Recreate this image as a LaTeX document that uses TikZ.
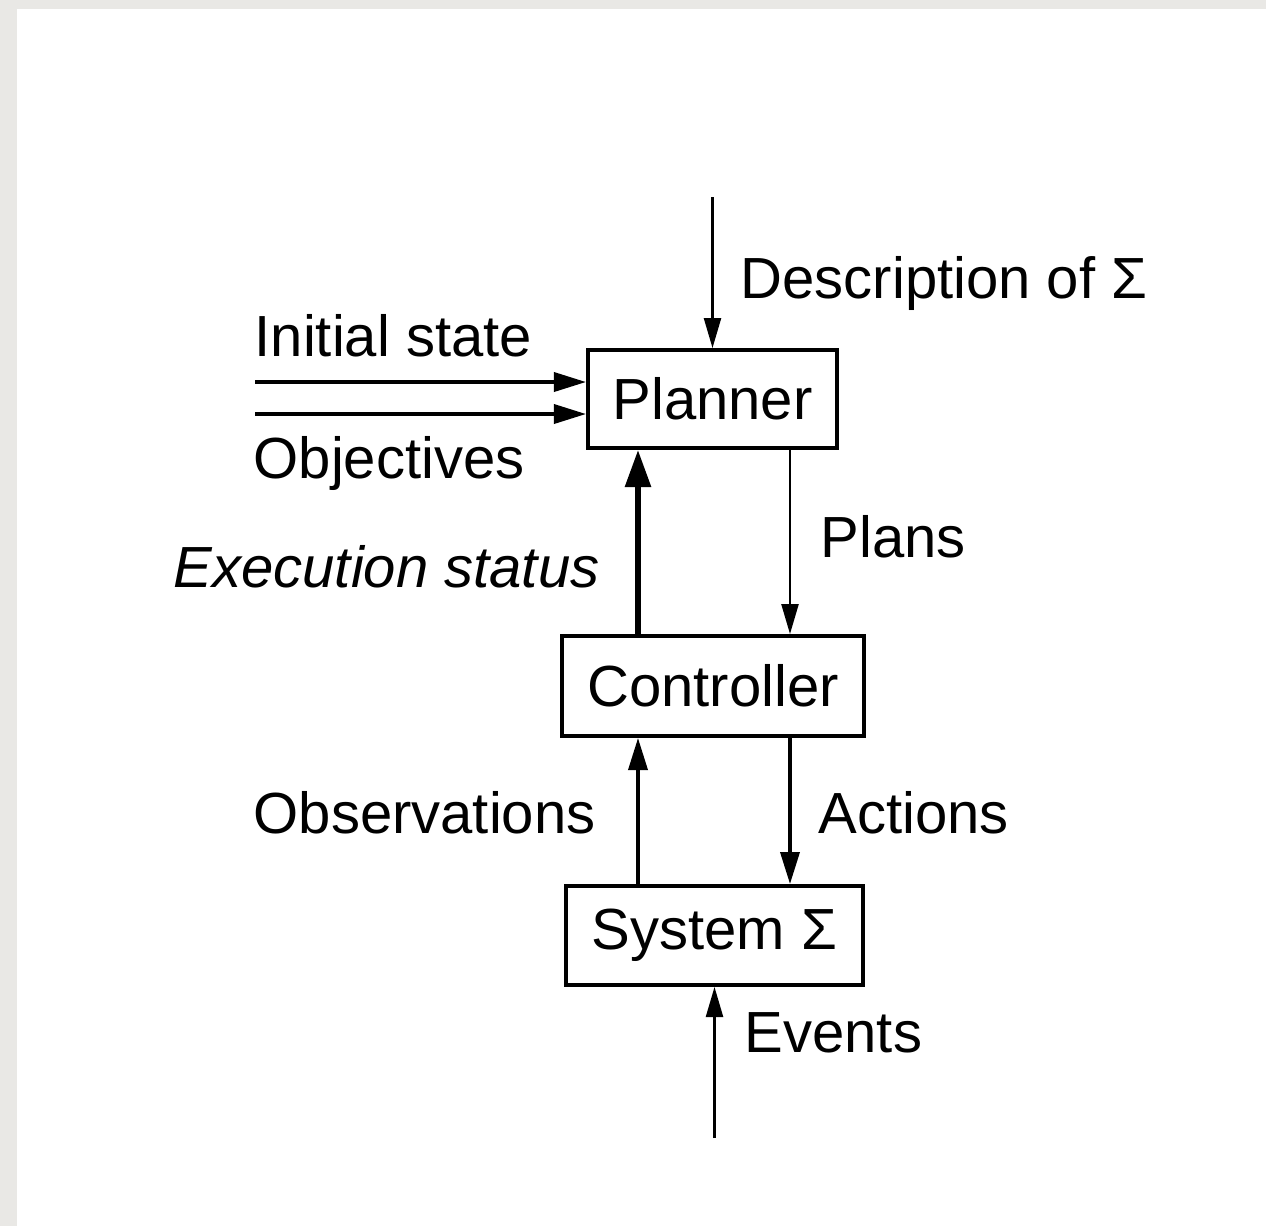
\documentclass[tikz,border=0pt]{standalone}
\usepackage{fontspec}
\setmainfont{Liberation Sans}
\usepackage{tikz}
\usetikzlibrary{positioning, arrows.meta, calc}
\definecolor{PageGray}{RGB}{233,232,229}

\begin{document}
\begin{tikzpicture}[x=0.01cm, y=-0.01cm,
    block/.style={draw, line width=1.1pt, inner sep=0pt, font=\fontsize{16.5}{19}\selectfont},
    lbl/.style={anchor=base west, inner sep=0pt, font=\fontsize{16.5}{19}\selectfont},
    flow/.style={-{Triangle[length=0.32cm, width=0.19cm]}, line width=1.0pt},
    thinflow/.style={-{Triangle[length=0.30cm, width=0.17cm]}, line width=0.65pt},
    statflow/.style={-{Triangle[length=0.37cm, width=0.25cm]}, line width=1.6pt}]
    \useasboundingbox (0,0) rectangle (1266,1226);
    % Page background
    \fill[PageGray] (0,0) rectangle (1266,1226);
    \fill[white] (17,9) rectangle (1266,1226);
    % Blocks
    \node[block, minimum width=2.49cm, minimum height=0.98cm] (plan) at (712.5,399) {Planner};
    \node[block, minimum width=3.02cm, minimum height=1.00cm] (ctrl) at (713,686) {Controller};
    \node[block, minimum width=2.97cm, minimum height=0.99cm] (sys) at (714.5,935.5) {System Σ};
    % Free ends and columns
    \coordinate (descTop) at (712.5,197);
    \coordinate (evBot) at (714.5,1138);
    \coordinate (initL) at (255,382);
    \coordinate (objL) at (255,414);
    \coordinate (colL) at (638,0);
    \coordinate (colR) at (790,0);
    % Inputs of the planner
    \draw[thinflow] (descTop) -- (plan.north);
    \draw[flow] (initL) -- (plan.west |- initL);
    \draw[flow] (objL) -- (plan.west |- objL);
    % Planner <-> controller
    \draw[thinflow] (plan.south -| colR) -- (ctrl.north -| colR);
    \draw[statflow] (ctrl.north -| colL) -- (plan.south -| colL);
    % Controller <-> system
    \draw[flow] (ctrl.south -| colR) -- (sys.north -| colR);
    \draw[flow] (sys.north -| colL) -- (ctrl.south -| colL);
    % Events
    \draw[thinflow] (evBot) -- (sys.south);
    % Labels
    \node[lbl] (descT) at (740,298) {Description of Σ};
    \node[lbl] (initT) at (254,356) {Initial state};
    \node[lbl] (objT) at (253,478) {Objectives};
    \node[lbl, font=\fontsize{16.5}{19}\selectfont\itshape] (statT) at (173,587) {Execution status};
    \node[lbl] (plansT) at (820,557) {Plans};
    \node[lbl] (obsT) at (253,833) {Observations};
    \node[lbl] (actT) at (818,833) {Actions};
    \node[lbl] (evT) at (744,1052) {Events};
\end{tikzpicture}
\end{document}
